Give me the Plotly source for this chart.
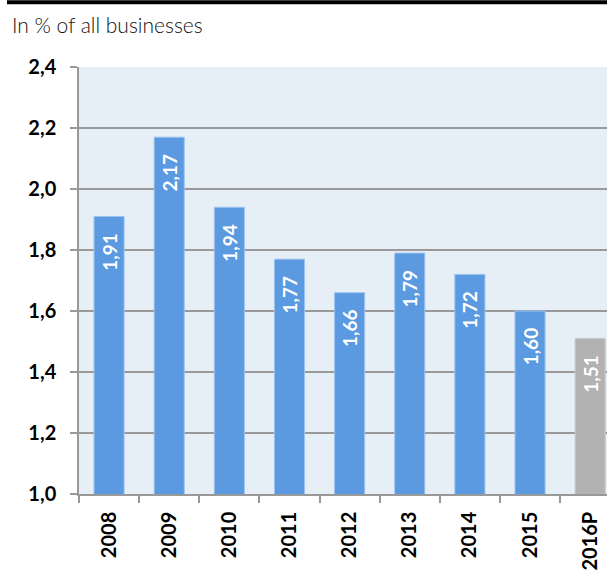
import plotly.graph_objects as go

years = ["2008", "2009", "2010", "2011", "2012", "2013", "2014", "2015", "2016P"]
values = [1.91, 2.17, 1.94, 1.77, 1.66, 1.79, 1.72, 1.60, 1.51]
colors = ["#5b9ae0"] * 8 + ["#b2b2b2"]
line_colors = ["#9cc3ee"] * 8 + ["#c8c8c8"]

W, H = 607, 571
L, T, B = 79, 67, 75
pw = W - L
ph = H - T - B

fig = go.Figure(go.Bar(
    x=years, y=values, width=0.5,
    marker=dict(color=colors, line=dict(color=line_colors, width=1)),
    texttemplate="%{y:.2f}\u00a0\u00a0\u00a0", textposition="inside", insidetextanchor="end",
    textangle=-90,
    textfont=dict(family="Lato", size=19, color="white", weight="bold"),
))

fig.update_layout(
    width=W, height=H,
    margin=dict(l=L, r=0, t=T, b=B, pad=0),
    paper_bgcolor="white", plot_bgcolor="#e6eef6",
    separators=",.",
    showlegend=False,
    bargap=0.5,
    annotations=[dict(text="In % of all businesses", xref="paper", yref="paper",
                      x=(10 - L) / pw, y=(H - B - 24) / ph, xanchor="left", yanchor="middle",
                      showarrow=False,
                      font=dict(family="Lato", size=21, color="#111111", weight=300))],
    shapes=[dict(type="line", xref="paper", yref="paper",
                 x0=(7 - L) / pw, x1=(W + 5 - L) / pw,
                 y0=(H - B - 2) / ph, y1=(H - B - 2) / ph,
                 line=dict(color="black", width=4))],
)

fig.update_xaxes(
    type="category", range=[-0.5, 8.28],
    tickson="boundaries", ticks="outside", ticklen=7, tickcolor="#999999", tickwidth=1.5,
    showline=True, linecolor="#999999", linewidth=1.5,
    showgrid=False, tickangle=-90, ticklabelstandoff=8,
    tickfont=dict(family="Lato", size=20, color="black", weight="bold"),
)
fig.update_yaxes(
    range=[1.0, 2.4], dtick=0.2, tick0=1.0, tickformat=".1f",
    ticks="outside", ticklen=7, tickcolor="#999999", tickwidth=1.5,
    showline=True, linecolor="#999999", linewidth=1.5,
    showgrid=True, gridcolor="#999999", gridwidth=1.5,
    zeroline=False, ticklabelstandoff=10,
    tickfont=dict(family="Lato", size=20, color="black", weight="bold"),
)

fig.write_html("out.html")
